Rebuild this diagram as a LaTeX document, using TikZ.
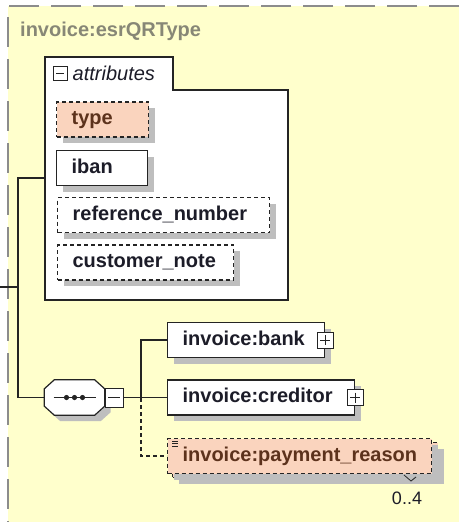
\documentclass[tikz,border=0pt]{standalone}
\usepackage{fontspec}
\setmainfont{Liberation Sans}
\usetikzlibrary{positioning, shadows}
\definecolor{xsdyellow}{RGB}{255,255,204}
\definecolor{xsdorange}{RGB}{250,212,190}
\definecolor{xsdshadow}{RGB}{190,190,190}
\definecolor{xsdline}{RGB}{36,36,36}
\definecolor{xsdtext}{RGB}{28,28,40}
\definecolor{xsdbrown}{RGB}{92,50,28}
\definecolor{xsdtitle}{RGB}{135,135,118}
\definecolor{xsdborder}{RGB}{140,140,140}

\begin{document}
\begin{tikzpicture}[
    x=1pt, y=-1pt,
    conn/.style={draw=xsdline, line width=1.3pt},
    opt/.style={dash pattern=on 4pt off 3pt},
    shade6/.style={drop shadow={shadow xshift=6pt, shadow yshift=-6pt, fill=xsdshadow, opacity=1}},
    elem/.style={draw=xsdline, line width=1.2pt, fill=white, anchor=west, inner xsep=15pt, inner ysep=0pt,
        minimum height=35pt, text height=14pt, text depth=4pt, text width=#1, align=left,
        font=\fontsize{20}{22}\selectfont\bfseries, text=xsdtext, shade6},
    optelem/.style={elem=#1, opt, fill=xsdorange, text=xsdbrown},
    plusbox/.style={draw=xsdline, line width=1pt, fill=white, minimum size=16pt, inner sep=0pt,
        path picture={\draw[line width=1pt] ([xshift=3pt]path picture bounding box.west) -- ([xshift=-3pt]path picture bounding box.east)
            ([yshift=-3pt]path picture bounding box.north) -- ([yshift=3pt]path picture bounding box.south);}},
    minusbox/.style={draw=xsdline, line width=1pt, fill=white, minimum size=16pt, inner sep=0pt,
        path picture={\draw[line width=1pt] ([xshift=3pt]path picture bounding box.west) -- ([xshift=-3pt]path picture bounding box.east);}}
]
\useasboundingbox (0,0) rectangle (459,522);

% complex type frame
\fill[xsdyellow] (8,6) rectangle (459,522);
\draw[xsdborder, line width=1.3pt, dash pattern=on 30pt off 12pt] (459,6) -- (8,6) -- (8,522);
\node[anchor=west, inner sep=0pt, font=\fontsize{20}{22}\selectfont\bfseries, text=xsdtitle] (title) at (20,31) {invoice:esrQRType};

% attributes
\draw[conn, fill=white] (45,57) -- (173,57) -- (173,90) -- (288,90) -- (288,300) -- (45,300) -- cycle;
\node[minusbox, minimum size=14pt] (attrminus) at (60,73) {};
\node[right=5pt of attrminus, inner sep=0pt, font=\fontsize{20}{22}\selectfont\itshape, text=xsdtext] (attrlabel) {attributes};

\node[optelem=62pt] (type) at (56,119.5) {type};
\node[elem=61pt] (iban) at (56,168) {iban};
\node[elem=182pt, opt] (refnum) at (57,215) {reference\_number};
\node[elem=146pt, opt] (custnote) at (57,262.5) {customer\_note};

% sequence
\node[minimum width=60pt, minimum height=35pt, inner sep=0pt] (seq) at (74.5,397.5) {};
\filldraw[draw=xsdline, line width=1.2pt, fill=white, shade6]
  ([xshift=10pt]seq.north west) -- ([xshift=-10pt]seq.north east) -- ([yshift=-9pt]seq.north east)
  -- ([yshift=9pt]seq.south east) -- ([xshift=-10pt]seq.south east) -- ([xshift=10pt]seq.south west)
  -- ([yshift=9pt]seq.south west) -- ([yshift=-9pt]seq.north west) -- cycle;
\draw[conn] ([xshift=-21pt]seq.center) -- ([xshift=21pt]seq.center);
\foreach \dx in {-8,0,8}
  \fill[xsdline] ([xshift=\dx pt]seq.center) circle (2.6pt);
\node[minusbox, minimum width=18pt, minimum height=19pt, anchor=west] (seqminus) at (seq.east) {};

% child elements
\node[elem=127pt] (bank) at (167,340) {invoice:bank};
\node[plusbox] (bankplus) at (bank.east) {};
\node[elem=157pt] (creditor) at (167,397.5) {invoice:creditor};
\node[plusbox] (credplus) at (creditor.east) {};

\node[elem=234pt, opt, fill=xsdorange, text width={}, minimum width=265pt] (paystack) at (172,460) {};
\node[optelem=234pt, drop shadow={opacity=0}] (payment) at (167,456) {invoice:payment\_reason};
\draw[xsdline, line width=0.8pt] ([xshift=5pt,yshift=-3pt]payment.north west) -- ++(6pt,0)
  ++(-6pt,-2.5pt) -- ++(6pt,0) ++(-6pt,-2.5pt) -- ++(6pt,0);
\draw[xsdline, line width=0.8pt] (404,475) -- (411,481) -- (416,477);
\node[font=\fontsize{18}{20}\selectfont, text=xsdtext] (mult) at (407,498) {0..4};

% connectors
\coordinate (root) at (0,287);
\coordinate (trunk) at (18,287);
\coordinate (attrin) at (45,178);
\coordinate (fork) at (141,398);
\draw[conn] (root) -- (trunk);
\draw[conn] (attrin) -| (trunk) |- (seq.west);
\draw[conn] (seqminus.east) -- (creditor.west);
\draw[conn] (fork) |- (bank.west);
\draw[conn, opt] (fork) |- (payment.west);

\end{tikzpicture}
\end{document}
